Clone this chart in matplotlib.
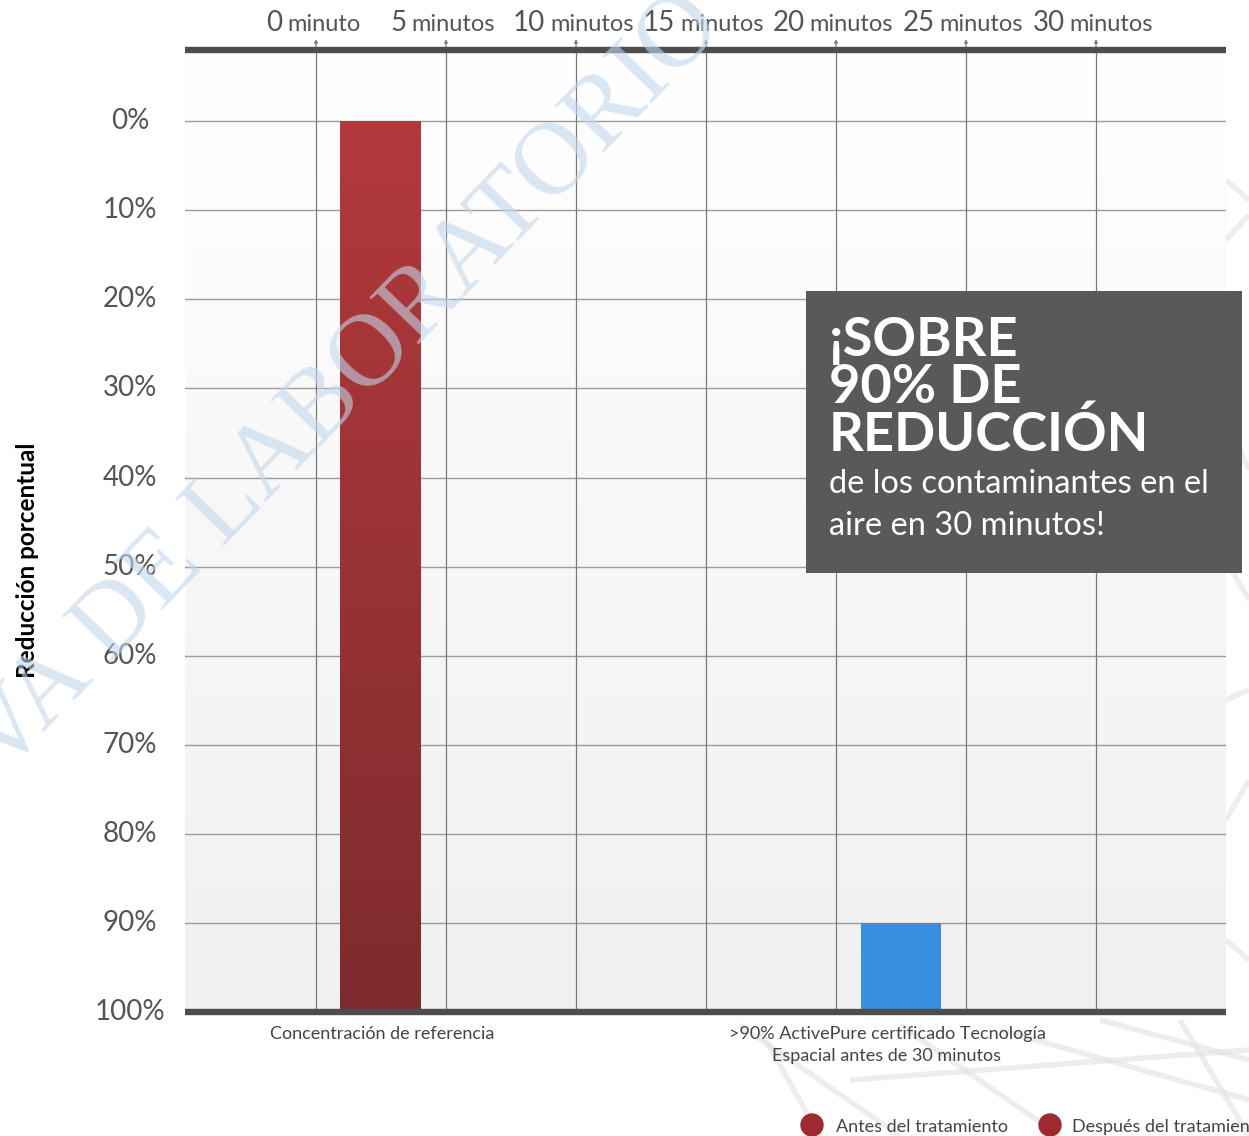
import numpy as np
import matplotlib.pyplot as plt
from matplotlib.colors import LinearSegmentedColormap
from matplotlib.transforms import blended_transform_factory
from matplotlib.patches import Rectangle, Circle

W, H = 1249, 1136

# datos
minutos = [0, 5, 10, 15, 20, 25, 30]
etiquetas_min = ['minuto', 'minutos', 'minutos', 'minutos', 'minutos', 'minutos', 'minutos']
porcentajes = [0, 10, 20, 30, 40, 50, 60, 70, 80, 90, 100]
categorias = ['Concentración de referencia',
              '>90% ActivePure certificado Tecnología\nEspacial antes de 30 minutos']
restante = [100, 10]          # % de contaminantes que queda
pos_barras = [2.48, 22.5]     # posición en la escala de minutos
pos_etiquetas = [2.54, 21.96]
colores_barra = ['#b0383a', '#3a8ee0']
leyenda = ['Antes del tratamiento', 'Después del tratamiento']

plt.rcParams['font.family'] = ['Lato', 'DejaVu Sans']

fig = plt.figure(figsize=(W / 100, H / 100), dpi=100)
fig.patch.set_facecolor('white')

# lineas grises de fondo (decoración)
deco = fig.add_axes([0, 0, 1, 1], zorder=-5)
deco.set_xlim(0, W)
deco.set_ylim(H, 0)
deco.axis('off')
lineas_deco = [((1226, 180), (1249, 200)), ((1226, 240), (1249, 215)), ((1226, 420), (1249, 470)),
               ((1226, 560), (1249, 600)), ((1226, 700), (1249, 690)), ((1226, 820), (1249, 780)),
               ((1226, 940), (1249, 960)), ((740, 1025), (900, 1136)), ((760, 1030), (820, 1136)),
               ((1000, 1030), (1249, 1100)), ((1100, 1020), (1249, 1060)), ((850, 1080), (1249, 1050)),
               ((900, 1025), (1060, 1136)), ((1180, 1020), (1249, 1136))]
for (x0, y0), (x1, y1) in lineas_deco:
    deco.plot([x0, x1], [y0, y1], color='#e2e2e2', lw=4, alpha=0.6, solid_capstyle='butt')

ax = fig.add_axes([185 / W, 1 - 1012 / H, (1226 - 185) / W, (1012 - 50) / H])
ax.set_xlim(-5.04, 35)
ax.set_ylim(100, -8)
ax.axis('off')

# fondo degradado
fondo = LinearSegmentedColormap.from_list('fondo', ['#ffffff', '#f0f0f0'])
ax.imshow(np.linspace(0, 1, 256).reshape(-1, 1), extent=[-5.04, 35, 100, -8],
          cmap=fondo, aspect='auto', zorder=0)

# rejilla
for p in porcentajes[:-1]:
    ax.plot([-5.04, 35], [p, p], color='#9c9c9c', lw=1.0, zorder=1)
for m in minutos:
    ax.plot([m, m], [100, -8], color='#7a7a7a', lw=0.9, zorder=1)
    ax.annotate('', xy=(m, 1.014), xytext=(m, 0.995), xycoords=('data', 'axes fraction'),
                arrowprops=dict(arrowstyle='-|>', lw=0.8, color='#7a7a7a', mutation_scale=5),
                annotation_clip=False)

# lineas gruesas superior e inferior
ax.plot([-5.04, 35], [-8, -8], color='#4d4d4d', lw=4.6, zorder=3, clip_on=False, solid_capstyle='butt')
ax.plot([-5.04, 35], [100, 100], color='#4d4d4d', lw=4.6, zorder=3, clip_on=False, solid_capstyle='butt')

# barras
barras = ax.bar(pos_barras, [-r for r in restante], bottom=100, width=3.1,
                color=colores_barra, zorder=2)
rojo = LinearSegmentedColormap.from_list('rojo', ['#b3393b', '#7e2b2f'])
img = ax.imshow(np.linspace(0, 1, 256).reshape(-1, 1), extent=[-5.04, 35, 100, 0],
                cmap=rojo, aspect='auto', zorder=2.1)
img.set_clip_path(barras[0])
ax.set_xlim(-5.04, 35)
ax.set_ylim(100, -8)

# etiquetas del eje y
tr_y = blended_transform_factory(fig.transFigure, ax.transData)
for p in porcentajes:
    ax.text(130 / W, p, f'{p}%', transform=tr_y, ha='center', va='center',
            fontsize=20, color='#555555')

fig.text(28 / W, 1 - 560 / H, 'Reducción porcentual', rotation=90, ha='center', va='center',
         fontsize=17.5, fontweight='bold', color='#000000')

# etiquetas de categoria
for x, c in zip(pos_etiquetas, categorias):
    ax.text(x, 101.6, c, ha='center', va='top', fontsize=13, color='#444444',
            linespacing=1.45, clip_on=False)

# etiquetas superiores (minutos)
fig.canvas.draw()
rend = fig.canvas.get_renderer()
y_base = 1 - 31 / H
for m, pal in zip(minutos, etiquetas_min):
    gx = ax.transData.transform((m, 0))[0]
    t1 = fig.text(0, y_base, str(m), fontsize=20, color='#555555', va='baseline')
    t2 = fig.text(0, y_base, pal, fontsize=17, color='#555555', va='baseline')
    w1 = t1.get_window_extent(rend).width
    w2 = t2.get_window_extent(rend).width
    x0 = gx - 3 - (w1 + 5 + w2) / 2
    t1.set_x(x0 / W)
    t2.set_x((x0 + w1 + 5) / W)

# caja gris
fig.patches.append(Rectangle((806 / W, 1 - 573 / H), (1242 - 806) / W, (573 - 291) / H,
                             transform=fig.transFigure, facecolor='#58595b', zorder=5))
for txt, yb in [('¡SOBRE', 356), ('90% DE', 403), ('REDUCCIÓN', 451)]:
    fig.text(829 / W, 1 - yb / H, txt, fontsize=39, fontweight='bold', color='white',
             va='baseline', zorder=6)
fig.text(829 / W, 1 - 493 / H, 'de los contaminantes en el', fontsize=23.5, color='white',
         va='baseline', zorder=6)
fig.text(829 / W, 1 - 535 / H, 'aire en 30 minutos!', fontsize=23.5, color='white',
         va='baseline', zorder=6)

# leyenda
for xc, xt, lab in [(812, 836, leyenda[0]), (1050, 1072, leyenda[1])]:
    deco.add_patch(Circle((xc, 1125), 11, color='#9e2a2f', zorder=2))
    deco.text(xt, 1127, lab, ha='left', va='center', fontsize=13, color='#444444', zorder=2)

# marca de agua
fig.text(345 / W, 1 - 385 / H, 'VA DE LABORATORIO', rotation=46, ha='center', va='center',
         fontsize=74, family='Liberation Serif', color='#c2d7ec', alpha=0.6, zorder=10)

fig.savefig('out.png', dpi=100)
